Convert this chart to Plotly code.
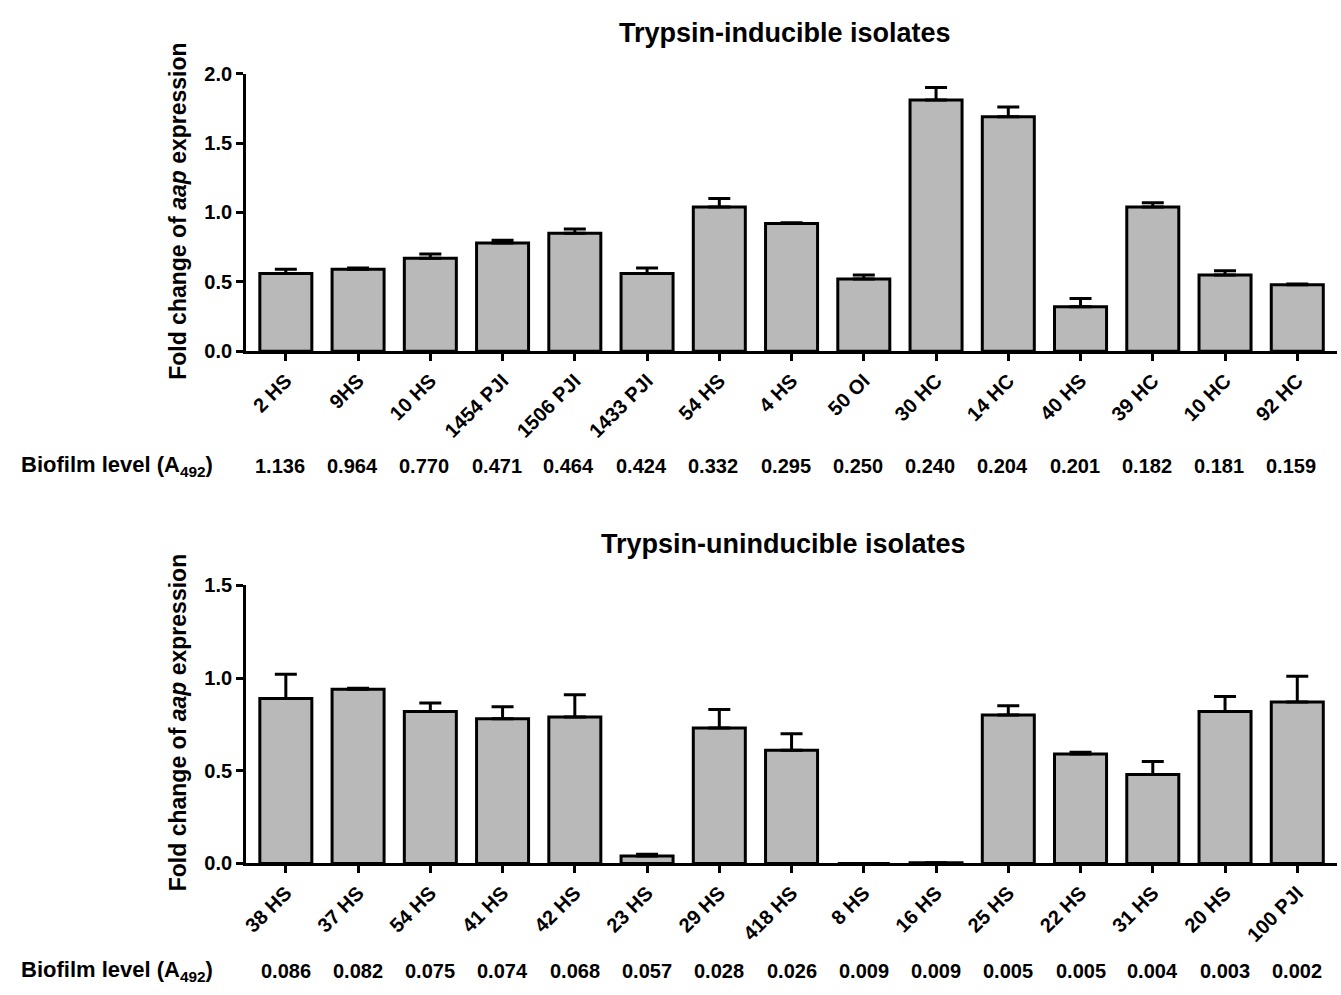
import plotly.graph_objects as go

W, H = 1341, 995

top_labels = ["2 HS", "9HS", "10 HS", "1454 PJI", "1506 PJI", "1433 PJI", "54 HS", "4 HS",
              "50 OI", "30 HC", "14 HC", "40 HS", "39 HC", "10 HC", "92 HC"]
top_values = [0.56, 0.59, 0.67, 0.78, 0.85, 0.56, 1.04, 0.92, 0.52, 1.81, 1.69, 0.32, 1.04, 0.55, 0.48]
top_errors = [0.03, 0.01, 0.03, 0.02, 0.03, 0.04, 0.06, 0.005, 0.03, 0.09, 0.07, 0.06, 0.03, 0.03, 0.005]
top_biofilm = ["1.136", "0.964", "0.770", "0.471", "0.464", "0.424", "0.332", "0.295",
               "0.250", "0.240", "0.204", "0.201", "0.182", "0.181", "0.159"]

bot_labels = ["38 HS", "37 HS", "54 HS", "41 HS", "42 HS", "23 HS", "29 HS", "418 HS",
              "8 HS", "16 HS", "25 HS", "22 HS", "31 HS", "20 HS", "100 PJI"]
bot_values = [0.89, 0.94, 0.82, 0.78, 0.79, 0.04, 0.73, 0.61, 0.0, 0.004, 0.80, 0.59, 0.48, 0.82, 0.87]
bot_errors = [0.13, 0.005, 0.045, 0.065, 0.12, 0.01, 0.10, 0.09, 0.0, 0.0, 0.05, 0.01, 0.07, 0.08, 0.14]
bot_biofilm = ["0.086", "0.082", "0.075", "0.074", "0.068", "0.057", "0.028", "0.026",
               "0.009", "0.009", "0.005", "0.005", "0.004", "0.003", "0.002"]

FONT = "Liberation Sans, Arial, Helvetica, sans-serif"
NARROW = "Liberation Sans Narrow, Arial Narrow, Liberation Sans, Arial, sans-serif"
BAR_FILL = "#b9b9b9"


def px_x(p):
    return p / W


def px_y(p):
    return (H - p) / H


fig = go.Figure()

for vals, errs, xa, ya in [(top_values, top_errors, "x", "y"), (bot_values, bot_errors, "x2", "y2")]:
    n = len(vals)
    fig.add_trace(go.Bar(
        x=list(range(n)), y=vals, xaxis=xa, yaxis=ya, width=0.72,
        marker=dict(color=BAR_FILL, line=dict(color="black", width=3)),
        error_y=dict(type="data", array=errs, arrayminus=[0] * n, symmetric=False,
                     color="black", thickness=3, width=11),
        showlegend=False, hoverinfo="skip",
    ))

xdom = [px_x(242), px_x(1337)]
common_x = dict(
    range=[-0.55, 14.55], showline=True, linecolor="black", linewidth=3,
    ticks="outside", ticklen=7, tickwidth=3, tickcolor="black", tickangle=-45,
    tickvals=list(range(15)), showgrid=False, zeroline=False,
    tickfont=dict(family=FONT, size=20, color="black", weight="bold"),
)
common_y = dict(
    showline=True, linecolor="black", linewidth=3, ticks="outside", ticklen=7,
    tickwidth=3, tickcolor="black", showgrid=False, zeroline=False,
    tickfont=dict(family=FONT, size=20, color="black", weight="bold"),
)

fig.update_layout(
    width=W, height=H, margin=dict(l=0, r=0, t=0, b=0),
    paper_bgcolor="white", plot_bgcolor="white", bargap=0.28,
    xaxis=dict(domain=xdom, anchor="y", ticktext=top_labels, **common_x),
    yaxis=dict(domain=[px_y(348), px_y(64)], anchor="x", range=[0, 2.0],
               tickvals=[0, 0.5, 1.0, 1.5, 2.0], ticktext=["0.0", "0.5", "1.0", "1.5", "2.0"], **common_y),
    xaxis2=dict(domain=xdom, anchor="y2", ticktext=bot_labels, **common_x),
    yaxis2=dict(domain=[px_y(871.7), px_y(587.3)], anchor="x2", range=[0, 1.5],
                tickvals=[0, 0.5, 1.0, 1.5], ticktext=["0.0", "0.5", "1.0", "1.5"], **common_y),
)

ann = []
# titles
ann.append(dict(text="<b>Trypsin-inducible isolates</b>", x=px_x(783), y=px_y(22), xref="paper", yref="paper",
                xanchor="center", yanchor="middle", showarrow=False, font=dict(family=FONT, size=27, color="black")))
ann.append(dict(text="<b>Trypsin-uninducible isolates</b>", x=px_x(781), y=px_y(545), xref="paper", yref="paper",
                xanchor="center", yanchor="middle", showarrow=False, font=dict(family=FONT, size=27, color="black")))
# y titles
for yc in (205, 728):
    ann.append(dict(text="<b>Fold change of <i>aap</i> expression</b>", x=px_x(174), y=px_y(yc),
                    xref="paper", yref="paper", xanchor="center", yanchor="middle", textangle=-90,
                    showarrow=False, font=dict(family=FONT, size=23, color="black")))
# biofilm row labels
for yc in (465, 982):
    ann.append(dict(text="<b>Biofilm level (A<sub>492</sub>)</b>", x=px_x(14), y=px_y(yc),
                    xref="paper", yref="paper", xanchor="left", yanchor="middle",
                    showarrow=False, font=dict(family=FONT, size=22, color="black")))
for i, v in enumerate(top_biofilm):
    ann.append(dict(text="<b>%s</b>" % v, x=i, y=px_y(465), xref="x", yref="paper", xshift=-6,
                    xanchor="center", yanchor="middle", showarrow=False,
                    font=dict(family=NARROW, size=20, color="black")))
for i, v in enumerate(bot_biofilm):
    ann.append(dict(text="<b>%s</b>" % v, x=i, y=px_y(982), xref="x2", yref="paper",
                    xanchor="center", yanchor="middle", showarrow=False,
                    font=dict(family=NARROW, size=20, color="black")))

fig.update_layout(annotations=ann)
fig.write_html("out.html",
               post_script="document.body.style.margin='0';document.body.style.padding='0';")
